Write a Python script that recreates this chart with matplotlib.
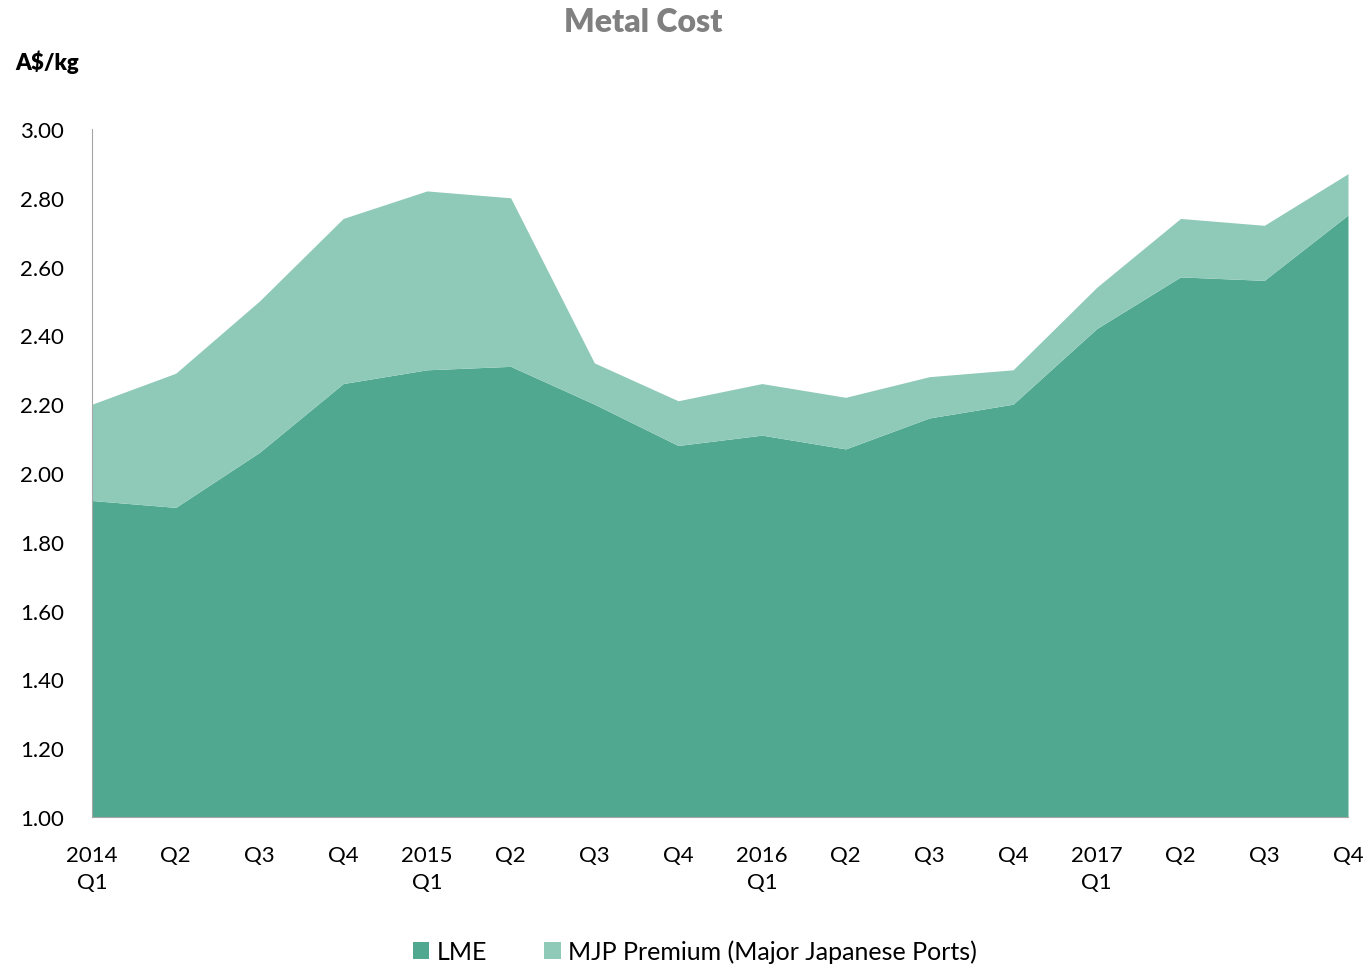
import matplotlib
matplotlib.use('Agg')
import matplotlib.pyplot as plt

plt.rcParams['font.family'] = ['Lato', 'DejaVu Sans']

# quarterly values, A$/kg
quarters = ['2014\nQ1', 'Q2', 'Q3', 'Q4', '2015\nQ1', 'Q2', 'Q3', 'Q4',
            '2016\nQ1', 'Q2', 'Q3', 'Q4', '2017\nQ1', 'Q2', 'Q3', 'Q4']
lme = [1.92, 1.90, 2.06, 2.26, 2.30, 2.31, 2.20, 2.08,
       2.11, 2.07, 2.16, 2.20, 2.42, 2.57, 2.56, 2.75]
mjp_premium = [0.28, 0.39, 0.44, 0.48, 0.52, 0.49, 0.12, 0.13,
               0.15, 0.15, 0.12, 0.10, 0.12, 0.17, 0.16, 0.12]

c_lme = '#50A890'
c_mjp = '#8FCAB8'

fig = plt.figure(figsize=(13.69, 9.70), dpi=100)
ax = fig.add_axes([92 / 1369, 1 - 818 / 970, (1348 - 92) / 1369, (818 - 130) / 970])

x = list(range(len(quarters)))
total = [a + b for a, b in zip(lme, mjp_premium)]
ax.fill_between(x, 1.0, lme, color=c_lme, lw=0, label='LME')
ax.fill_between(x, lme, total, color=c_mjp, lw=0, label='MJP Premium (Major Japanese Ports)')

ax.set_xlim(0, len(quarters) - 1)
ax.set_ylim(1.0, 3.0)
ax.set_yticks([1.0 + 0.2 * i for i in range(11)])
ax.set_yticklabels(['%.2f' % (1.0 + 0.2 * i) for i in range(11)], fontsize=16)
ax.set_xticks(x)
ax.set_xticklabels(quarters, fontsize=16, linespacing=1.45, va='top')
ax.tick_params(axis='y', length=0, pad=20)
ax.tick_params(axis='x', length=0, pad=20)

for s in ['top', 'right']:
    ax.spines[s].set_visible(False)
ax.spines['left'].set_color('#A6A6A6')
ax.spines['bottom'].set_color('#A6A6A6')

fig.text(0.47, 0.977, 'Metal Cost', ha='center', va='center', fontsize=23,
         fontweight='heavy', color='#808080')
fig.text(0.011, 0.936, 'A$/kg', ha='left', va='center', fontsize=16, fontweight='heavy')

ax.legend(loc='lower center', bbox_to_anchor=(0.48, -0.245), ncol=2, frameon=False,
          fontsize=18, handlelength=0.65, handleheight=0.65, columnspacing=2.3,
          handletextpad=0.3)

fig.savefig('out.png', dpi=100)
